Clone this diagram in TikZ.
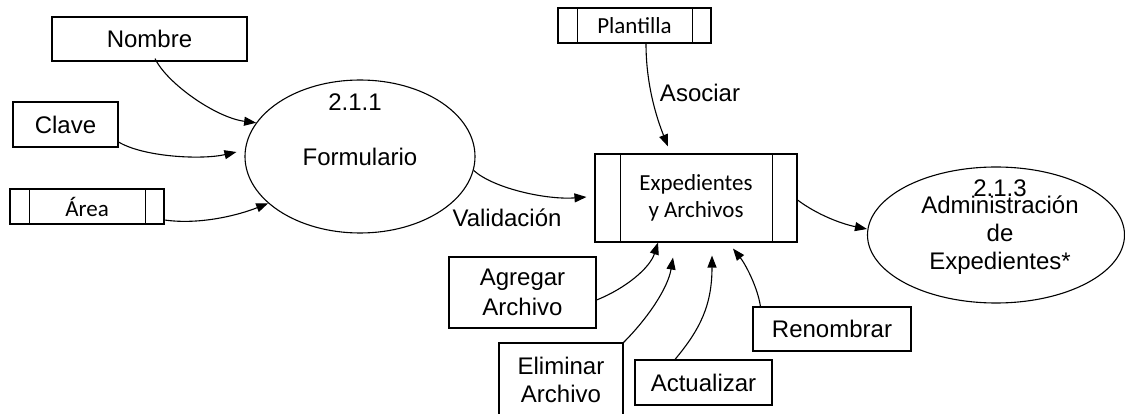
\documentclass[tikz,border=0pt]{standalone}
\usepackage{fontspec}
\setmainfont{Liberation Sans}
\newfontfamily\calibri{Carlito}
\usetikzlibrary{shapes.geometric,arrows.meta,calc}
\begin{document}
\begin{tikzpicture}[x=1pt,y=-1pt,line width=1.1pt,
  every node/.style={font=\fontsize{24}{29}\selectfont,inner sep=0pt},
  ent/.style={draw,rectangle,align=center},
  store/.style={draw,rectangle,align=center,font=\calibri\fontsize{23}{27}\selectfont},
  proc/.style={draw,ellipse},
  flow/.style={-{Triangle[length=12pt,width=9pt]}}]
\useasboundingbox (0,0) rectangle (1125,414);
% external entities and stores on the left
\node[ent,minimum width=195pt,minimum height=44pt] (nombre) at (149.5,39) {Nombre};
\node[ent,minimum width=105pt,minimum height=45pt] (clave) at (65.5,124.5) {Clave};
\node[store,minimum width=154pt,minimum height=35pt] (area) at (87,206.5) {Área};
\draw ([xshift=20pt]area.north west) -- ([xshift=20pt]area.south west);
\draw ([xshift=-19pt]area.north east) -- ([xshift=-19pt]area.south east);
% process 2.1.1
\node[proc,minimum width=230pt,minimum height=153pt] (form) at (360,156.5) {Formulario};
\node (n211) at (355,102) {2.1.1};
% store Plantilla
\node[store,minimum width=153pt,minimum height=35pt] (plant) at (634.5,25.5) {Plantilla};
\draw ([xshift=20pt]plant.north west) -- ([xshift=20pt]plant.south west);
\draw ([xshift=-19pt]plant.north east) -- ([xshift=-19pt]plant.south east);
% store Expedientes
\node[store,minimum width=202pt,minimum height=88pt] (exp) at (696,198) {Expedientes\\y Archivos};
\draw ([xshift=26pt]exp.north west) -- ([xshift=26pt]exp.south west);
\draw ([xshift=-25pt]exp.north east) -- ([xshift=-25pt]exp.south east);
% process 2.1.3
\node[proc,minimum width=257pt,minimum height=136pt] (adm) at (996,235) {};
\node[align=center,font=\fontsize{24}{28}\selectfont] (admt) at (1000,235) {Administración\\de\\Expedientes*};
\node (n213) at (1000,188) {2.1.3};
% bottom entities
\node[ent,minimum width=147pt,minimum height=71pt,font=\fontsize{24}{30}\selectfont] (agr) at (522.5,292.5) {Agregar\\Archivo};
\node[ent,minimum width=124pt,minimum height=74pt,font=\fontsize{24}{28}\selectfont] (elim) at (561,380) {Eliminar\\Archivo};
\node[ent,minimum width=137pt,minimum height=45pt] (act) at (703.5,382.5) {Actualizar};
\node[ent,minimum width=158pt,minimum height=44pt] (ren) at (832,329) {Renombrar};
% labels
\node (asoc) at (700,93) {Asociar};
\node (valid) at (507,218) {Validación};
% flows
\draw[flow] ($(nombre.south)+(5.5,-3)$) .. controls +(12,25) and +(-40,-5) .. (form.162);
\draw[flow] ($(clave.east)+(0,17.5)$) .. controls +(25,15) and +(-35,8) .. ($(form.west)+(-8,-4.5)$);
\draw[flow] ($(area.east)+(0,13.5)$) .. controls +(35,5) and +(-30,12) .. (form.207);
\draw[flow] (form.-7.6) .. controls +(20,18) and +(-40,3) .. ($(exp.west)+(-8,-1)$);
\draw[flow] ($(plant.south)+(11.5,0)$) .. controls +(0,40) and +(-12,-30) .. ($(exp.north)+(-28,-7)$);
\draw[flow] ($(exp.east)+(0,2)$) .. controls +(20,15) and +(-25,-5) .. ($(adm.west)+(0,-6)$);
\draw[flow] ($(agr.east)+(0,7.5)$) .. controls +(30,-12) and +(-8,25) .. ($(exp.south)+(-38,0)$);
\draw[flow] (elim.north east) .. controls +(25,-25) and +(-5,30) .. ($(exp.south)+(-23,15)$);
\draw[flow] ($(act.north)+(-28.5,0)$) .. controls +(25,-30) and +(0,50) .. ($(exp.south)+(16,13)$);
\draw[flow] ($(ren.north west)+(8,0)$) .. controls +(-3,-20) and +(12,15) .. ($(exp.south)+(37,6)$);
\end{tikzpicture}
\end{document}
